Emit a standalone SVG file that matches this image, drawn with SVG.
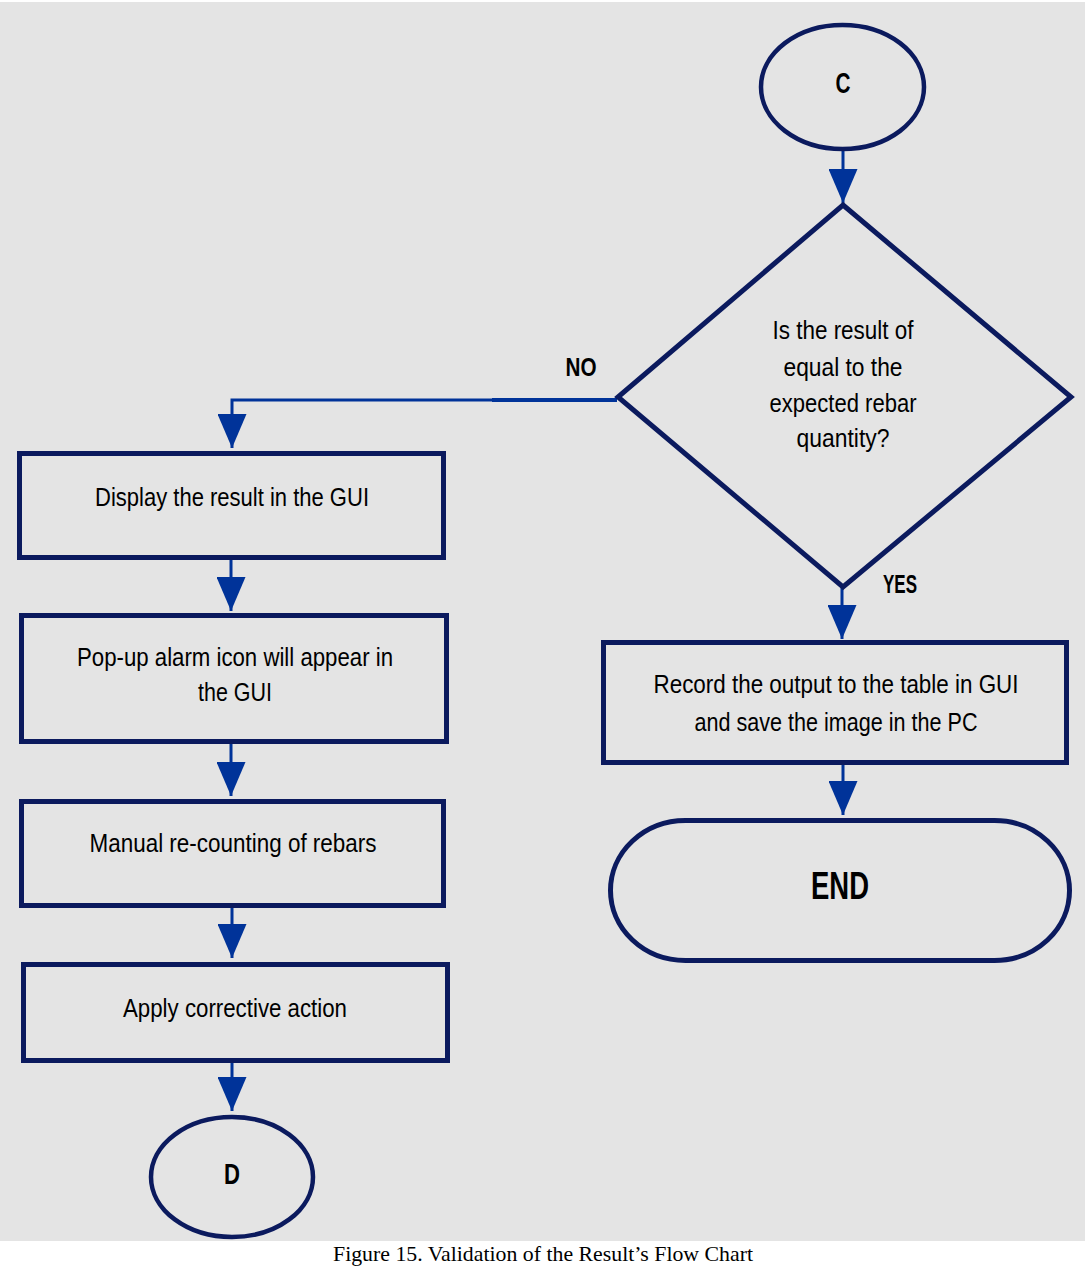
<svg xmlns="http://www.w3.org/2000/svg" width="1086" height="1266" viewBox="0 0 1086 1266">
<defs>
<style>
.node{fill:none;stroke:#0b1a5e;stroke-width:5}
.ell{fill:none;stroke:#0b1a5e;stroke-width:4.5}
.conn{fill:none;stroke:#003399;stroke-width:3}
.t{font-family:"Liberation Sans",Arial,sans-serif;font-size:26px;fill:#000;text-anchor:middle}
.b{font-family:"Liberation Sans",Arial,sans-serif;font-weight:bold;fill:#000;text-anchor:middle}
.cap{font-family:"Liberation Serif","Times New Roman",serif;font-size:22px;fill:#000;text-anchor:middle}
</style>
<marker id="ah" viewBox="0 0 34 29" refX="34" refY="14.5" markerWidth="34" markerHeight="29" markerUnits="userSpaceOnUse" orient="auto">
<path d="M0,0 L34,14.5 L0,29 Z" fill="#003399"/>
</marker>
</defs>
<rect x="0" y="0" width="1086" height="1266" fill="#ffffff"/>
<rect x="0" y="2" width="1085" height="1239" fill="#e4e4e4"/>

<g id="connectors">
<line class="conn" x1="843" y1="151" x2="843" y2="203" marker-end="url(#ah)"/>
<line class="conn" x1="617" y1="400" x2="492" y2="400" style="stroke-width:4"/>
<polyline class="conn" points="494,400 232,400 232,448" marker-end="url(#ah)"/>
<line class="conn" x1="231" y1="560" x2="231" y2="611" marker-end="url(#ah)"/>
<line class="conn" x1="231" y1="744" x2="231" y2="796" marker-end="url(#ah)"/>
<line class="conn" x1="232" y1="908" x2="232" y2="958" marker-end="url(#ah)"/>
<line class="conn" x1="232" y1="1063" x2="232" y2="1111" marker-end="url(#ah)"/>
<line class="conn" x1="842" y1="588" x2="842" y2="639" marker-end="url(#ah)"/>
<line class="conn" x1="843" y1="765" x2="843" y2="815" marker-end="url(#ah)"/>
<text class="b" x="581" y="376" font-size="25" textLength="31" lengthAdjust="spacingAndGlyphs">NO</text>
<text class="b" x="900" y="593" font-size="25" textLength="34" lengthAdjust="spacingAndGlyphs">YES</text>
</g>

<g id="start-c">
<ellipse class="ell" cx="842.5" cy="87" rx="81.5" ry="62"/>
<text class="b" x="843" y="93" font-size="29" textLength="15" lengthAdjust="spacingAndGlyphs">C</text>
</g>

<g id="decision">
<polygon class="node" points="843,205 1071,397 843,587 618,397"/>
<text class="t" x="843" y="339" textLength="141" lengthAdjust="spacingAndGlyphs">Is the result of</text>
<text class="t" x="843" y="376" textLength="119" lengthAdjust="spacingAndGlyphs">equal to the</text>
<text class="t" x="843" y="412" textLength="147" lengthAdjust="spacingAndGlyphs">expected rebar</text>
<text class="t" x="843" y="447" textLength="93" lengthAdjust="spacingAndGlyphs">quantity?</text>
</g>

<g id="display">
<rect class="node" x="19.5" y="453.5" width="424" height="104"/>
<text class="t" x="232" y="506" textLength="274" lengthAdjust="spacingAndGlyphs">Display the result in the GUI</text>
</g>

<g id="popup">
<rect class="node" x="21.5" y="615.5" width="425" height="126"/>
<text class="t" x="235" y="666" textLength="316" lengthAdjust="spacingAndGlyphs">Pop-up alarm icon will appear in</text>
<text class="t" x="235" y="701" textLength="74" lengthAdjust="spacingAndGlyphs">the GUI</text>
</g>

<g id="manual">
<rect class="node" x="21.5" y="801.5" width="422" height="104"/>
<text class="t" x="233" y="852" textLength="287" lengthAdjust="spacingAndGlyphs">Manual re-counting of rebars</text>
</g>

<g id="apply">
<rect class="node" x="23.5" y="964.5" width="424" height="96"/>
<text class="t" x="235" y="1017" textLength="224" lengthAdjust="spacingAndGlyphs">Apply corrective action</text>
</g>

<g id="end-d">
<ellipse class="ell" cx="232" cy="1177" rx="81" ry="60"/>
<text class="b" x="232" y="1184" font-size="29" textLength="16" lengthAdjust="spacingAndGlyphs">D</text>
</g>

<g id="record">
<rect class="node" x="603.5" y="642.5" width="463" height="120"/>
<text class="t" x="836" y="693" textLength="365" lengthAdjust="spacingAndGlyphs">Record the output to the table in GUI</text>
<text class="t" x="836" y="731" textLength="283" lengthAdjust="spacingAndGlyphs">and save the image in the PC</text>
</g>

<g id="end">
<rect class="node" x="610.5" y="820.5" width="459" height="140" rx="75" ry="70"/>
<text class="b" x="840" y="899" font-size="38" textLength="58" lengthAdjust="spacingAndGlyphs">END</text>
</g>

<text class="cap" x="543" y="1261" textLength="420" lengthAdjust="spacingAndGlyphs">Figure 15. Validation of the Result’s Flow Chart</text>
</svg>
